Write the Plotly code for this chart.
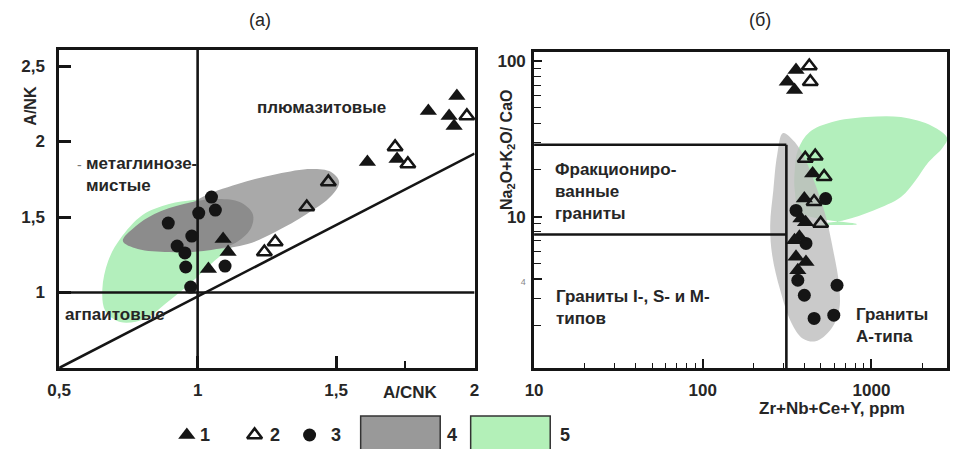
import plotly.graph_objects as go

W, H = 953, 449

# ---------------- Panel (а): A/NK vs A/CNK ----------------
a_s1_x = [1.833, 1.936, 1.908, 1.926, 1.613, 1.720, 1.092, 1.110, 1.039]
a_s1_y = [2.202, 2.301, 2.169, 2.103, 1.864, 1.884, 1.354, 1.268, 1.156]
a_s2_x = [1.972, 1.713, 1.759, 1.472, 1.394, 1.280, 1.241]
a_s2_y = [2.169, 1.964, 1.851, 1.732, 1.566, 1.334, 1.268]
a_s3_x = [0.894, 1.004, 1.064, 1.050, 0.979, 0.926, 0.954, 0.957, 0.975, 1.099]
a_s3_y = [1.460, 1.526, 1.546, 1.632, 1.374, 1.308, 1.262, 1.169, 1.036, 1.175]

# field outlines (panel а)
a_green_x = [0.667, 0.656, 0.677, 0.720, 0.801, 0.897, 0.986, 1.092, 1.181, 1.213, 1.202, 1.138, 1.064, 0.975, 0.887, 0.809, 0.720, 0.667]
a_green_y = [0.877, 1.023, 1.209, 1.354, 1.513, 1.586, 1.613, 1.619, 1.599, 1.533, 1.434, 1.321, 1.215, 1.063, 0.930, 0.825, 0.805, 0.877]
a_gray_x = [1.511, 1.482, 1.394, 1.280, 1.181, 1.057, 0.950, 0.915, 1.004, 1.145, 1.287, 1.411, 1.482, 1.511]
a_gray_y = [1.732, 1.639, 1.520, 1.401, 1.321, 1.288, 1.321, 1.474, 1.619, 1.719, 1.785, 1.818, 1.798, 1.732]
a_dark_x = [0.730, 0.773, 0.844, 0.950, 1.057, 1.152, 1.199, 1.191, 1.128, 1.021, 0.897, 0.784, 0.730]
a_dark_y = [1.341, 1.434, 1.520, 1.586, 1.619, 1.599, 1.520, 1.421, 1.321, 1.275, 1.268, 1.288, 1.341]

# boundary lines (panel а)
a_vline_x = [1.0, 1.0]
a_vline_y = [0.5, 2.7]
a_hline_x = [0.5, 2.0]
a_hline_y = [1.0, 1.0]
a_diag_x = [0.5, 2.0]
a_diag_y = [0.5, 1.92]

a_xticks = [0.5, 1.0, 1.5, 2.0]
a_xticktext = ["0,5", "1", "1,5", "2"]
a_yticks = [1.0, 1.5, 2.0, 2.5]
a_yticktext = ["1", "1,5", "2", "2,5"]

# ---------------- Panel (б): (Na2O+K2O)/CaO vs Zr+Nb+Ce+Y ----------------
b_s1_x = [357, 317, 350, 448, 400, 382, 407, 374, 350, 357, 409, 366]
b_s1_y = [87.5, 73.6, 65.2, 19.0, 13.1, 9.77, 9.25, 7.45, 7.08, 5.54, 5.14, 4.55]
b_s2_x = [428, 434, 405, 464, 524, 457, 500]
b_s2_y = [92.9, 73.6, 23.7, 24.5, 18.1, 12.5, 9.07]
b_s3_x = [535, 357, 409, 366, 625, 400, 598, 457]
b_s3_y = [13.1, 11.0, 6.75, 3.92, 3.64, 3.14, 2.34, 2.23]

b_green_x = [820, 381, 351, 351, 366, 430, 585, 935, 1496, 2297, 2808, 2626, 2176, 1829, 1496, 1028, 687, 479, 820]
b_green_y = [8.98, 10.7, 14.8, 19.9, 26.8, 35.0, 40.6, 43.7, 43.7, 38.2, 32.0, 27.6, 22.4, 17.2, 13.4, 11.0, 9.52, 8.98, 8.98]
b_gray_x = [299, 351, 407, 466, 533, 593, 643, 643, 569, 466, 391, 334, 288, 258, 251, 262, 276, 299]
b_gray_y = [34.5, 30.2, 23.1, 16.0, 10.3, 6.11, 3.64, 2.52, 1.87, 1.59, 1.66, 2.11, 3.38, 5.68, 8.84, 14.8, 24.9, 34.5]

b_top = 29.0      # upper boundary of fractionated granites
b_low = 7.7       # lower boundary
b_zr = 313.0      # A-type boundary
b_xticks = [10, 100, 1000]
b_xticktext = ["10", "100", "1000"]
b_xminor = [20, 30, 40, 50, 60, 70, 80, 90, 200, 300, 400, 500, 600, 700, 800, 900, 2000]
b_yticks = [4, 10, 100]
b_yticktext = ["<span style='font-size:9px;color:#888;font-weight:normal'>4</span>", "10", "100"]
b_yminor = [2, 3, 5, 6, 7, 8, 9, 20, 30, 40, 50, 60, 70, 80, 90]

GREEN = "#b3efbc"
GRAY = "#a9a9a9"
DARK = "#8c8c8c"
BGRAY = "#bdbdbd"
INK = "#151515"
TXT = "#262626"
FONT = "Liberation Sans"

fig = go.Figure()

def region(x, y, color, xa, ya, opacity=1.0):
    fig.add_trace(go.Scatter(x=x, y=y, mode="lines", fill="toself", fillcolor=color,
                             line=dict(width=0, shape="spline", smoothing=1.0, color=color),
                             opacity=opacity, hoverinfo="skip", showlegend=False,
                             xaxis=xa, yaxis=ya))

def seg(x, y, xa, ya, w=2.6):
    fig.add_trace(go.Scatter(x=x, y=y, mode="lines", line=dict(color=INK, width=w),
                             hoverinfo="skip", showlegend=False, xaxis=xa, yaxis=ya))

def pts(x, y, kind, xa, ya):
    if kind == 1:
        m = dict(symbol="triangle-up", size=15, color=INK, line=dict(width=0))
    elif kind == 2:
        m = dict(symbol="triangle-up-open", size=13, color=INK, line=dict(width=2.6, color=INK))
    else:
        m = dict(symbol="circle", size=13, color=INK, line=dict(width=0))
    fig.add_trace(go.Scatter(x=x, y=y, mode="markers", marker=m, showlegend=False,
                             xaxis=xa, yaxis=ya, cliponaxis=False))

# panel а
region(a_green_x, a_green_y, GREEN, "x", "y")
region(a_gray_x, a_gray_y, GRAY, "x", "y")
region(a_dark_x, a_dark_y, DARK, "x", "y")
seg(a_vline_x, a_vline_y, "x", "y")
seg(a_hline_x, a_hline_y, "x", "y")
seg(a_diag_x, a_diag_y, "x", "y")
pts(a_s3_x, a_s3_y, 3, "x", "y")
pts(a_s1_x, a_s1_y, 1, "x", "y")
pts(a_s2_x, a_s2_y, 2, "x", "y")

# panel б
region(b_green_x, b_green_y, GREEN, "x2", "y2")
region(b_gray_x, b_gray_y, BGRAY, "x2", "y2", opacity=0.8)
seg([10, b_zr], [b_top, b_top], "x2", "y2")
seg([10, b_zr], [b_low, b_low], "x2", "y2")
seg([b_zr, b_zr], [b_top, 1.0], "x2", "y2")
pts(b_s3_x, b_s3_y, 3, "x2", "y2")
pts(b_s1_x, b_s1_y, 1, "x2", "y2")
pts(b_s2_x, b_s2_y, 2, "x2", "y2")

# legend strip (pixel-like coordinates)
leg_x = [178, 247, 303]
leg_kind = [1, 2, 3]
for lx, k in zip(leg_x, leg_kind):
    pts([lx], [14], k, "x3", "y3")

tickfont = dict(family=FONT, size=17, color=TXT, weight="bold")
axis_common = dict(showline=True, mirror=True, linecolor=INK, linewidth=2.8, showgrid=False,
                   zeroline=False, ticks="inside", tickcolor=INK, tickfont=tickfont)

fig.update_layout(
    width=W, height=H, autosize=False,
    margin=dict(l=0, r=0, t=0, b=0),
    paper_bgcolor="white", plot_bgcolor="rgba(0,0,0,0)",
    xaxis=dict(domain=[48 / W, 471 / W], range=[0.5, 2.0], anchor="y",
               tickvals=a_xticks, ticktext=a_xticktext, ticklen=12, tickwidth=2.6,
               ticklabelstandoff=5,
               minor=dict(tickvals=[1.75], ticklen=7, ticks="inside", tickcolor=INK, tickwidth=2.4),
               **axis_common),
    yaxis=dict(domain=[81 / H, 399 / H], range=[0.5, 2.606], anchor="x",
               tickvals=a_yticks, ticktext=a_yticktext, ticklen=12, tickwidth=2.6,
               ticklabelstandoff=8, **axis_common),
    xaxis2=dict(type="log", domain=[531.6 / W, 952 / W], range=[1, 3.448], anchor="y2",
                tickvals=b_xticks, ticktext=b_xticktext, ticklen=9, tickwidth=1.6,
                ticklabelstandoff=5,
                minor=dict(tickvals=b_xminor, ticklen=5, ticks="inside", tickcolor=INK, tickwidth=1.4),
                **axis_common),
    yaxis2=dict(type="log", domain=[81 / H, 397 / H], range=[0.03, 2.058], anchor="x2",
                tickvals=b_yticks, ticktext=b_yticktext, ticklen=8, tickwidth=1.6,
                ticklabelstandoff=2,
                minor=dict(tickvals=b_yminor, ticklen=7, ticks="inside", tickcolor=INK, tickwidth=1.4),
                **axis_common),
    xaxis3=dict(domain=[0, 1], range=[0, W], visible=False, anchor="y3"),
    yaxis3=dict(domain=[0, 45 / H], range=[0, 45], visible=False, anchor="x3"),
)

def px(x, y):
    return x / W, 1 - y / H

def note(text, x, y, size=17, xanchor="center", align="center", angle=0, bold=True, color=TXT):
    xp, yp = px(x, y)
    fig.add_annotation(text=text, x=xp, y=yp, xref="paper", yref="paper", showarrow=False,
                       xanchor=xanchor, yanchor="middle", align=align, textangle=angle,
                       font=dict(family=FONT, size=size, color=color,
                                 weight="bold" if bold else "normal"))

note("(а)", 253, 20, size=18, bold=False)
note("(б)", 762, 20, size=18, bold=False)
note("A/NK", 18, 106, size=16, angle=-90)
note("A/CNK", 406, 392, size=17)
note("Zr+Nb+Ce+Y, ppm", 835, 408, size=17)
note("Na<sub>2</sub>O+K<sub>2</sub>O/ CaO", 504, 150, size=16, angle=-90)
note("плюмазитовые", 315, 107, size=17)
note("-", 64, 165, size=14, xanchor="left", bold=False, color="#777")
note("метаглинозе-<br>мистые", 73, 175, size=17, xanchor="left", align="left")
note("агпаитовые", 52, 314, size=17, xanchor="left", align="left")
note("Фракциониро-<br>ванные<br>граниты", 551, 192, size=17, xanchor="left", align="left")
note("Граниты I-, S- и M-<br>типов", 552, 307, size=17, xanchor="left", align="left")
note("Граниты<br>А-типа", 857, 325, size=17, xanchor="left", align="left")

# legend boxes and numbers
fig.add_shape(type="rect", xref="paper", yref="paper", x0=355 / W, x1=436 / W,
              y0=-0.02, y1=1 - 416 / H, fillcolor="#999999", line=dict(color="#333", width=1.5))
fig.add_shape(type="rect", xref="paper", yref="paper", x0=467 / W, x1=548 / W,
              y0=-0.02, y1=1 - 416 / H, fillcolor="#b3f0b8", line=dict(color="#333", width=1.5))
for t, lx in zip(["1", "2", "3", "4", "5"], [197, 268, 330, 448, 563]):
    note(t, lx, 435, size=18)

fig.write_html("out.html")
